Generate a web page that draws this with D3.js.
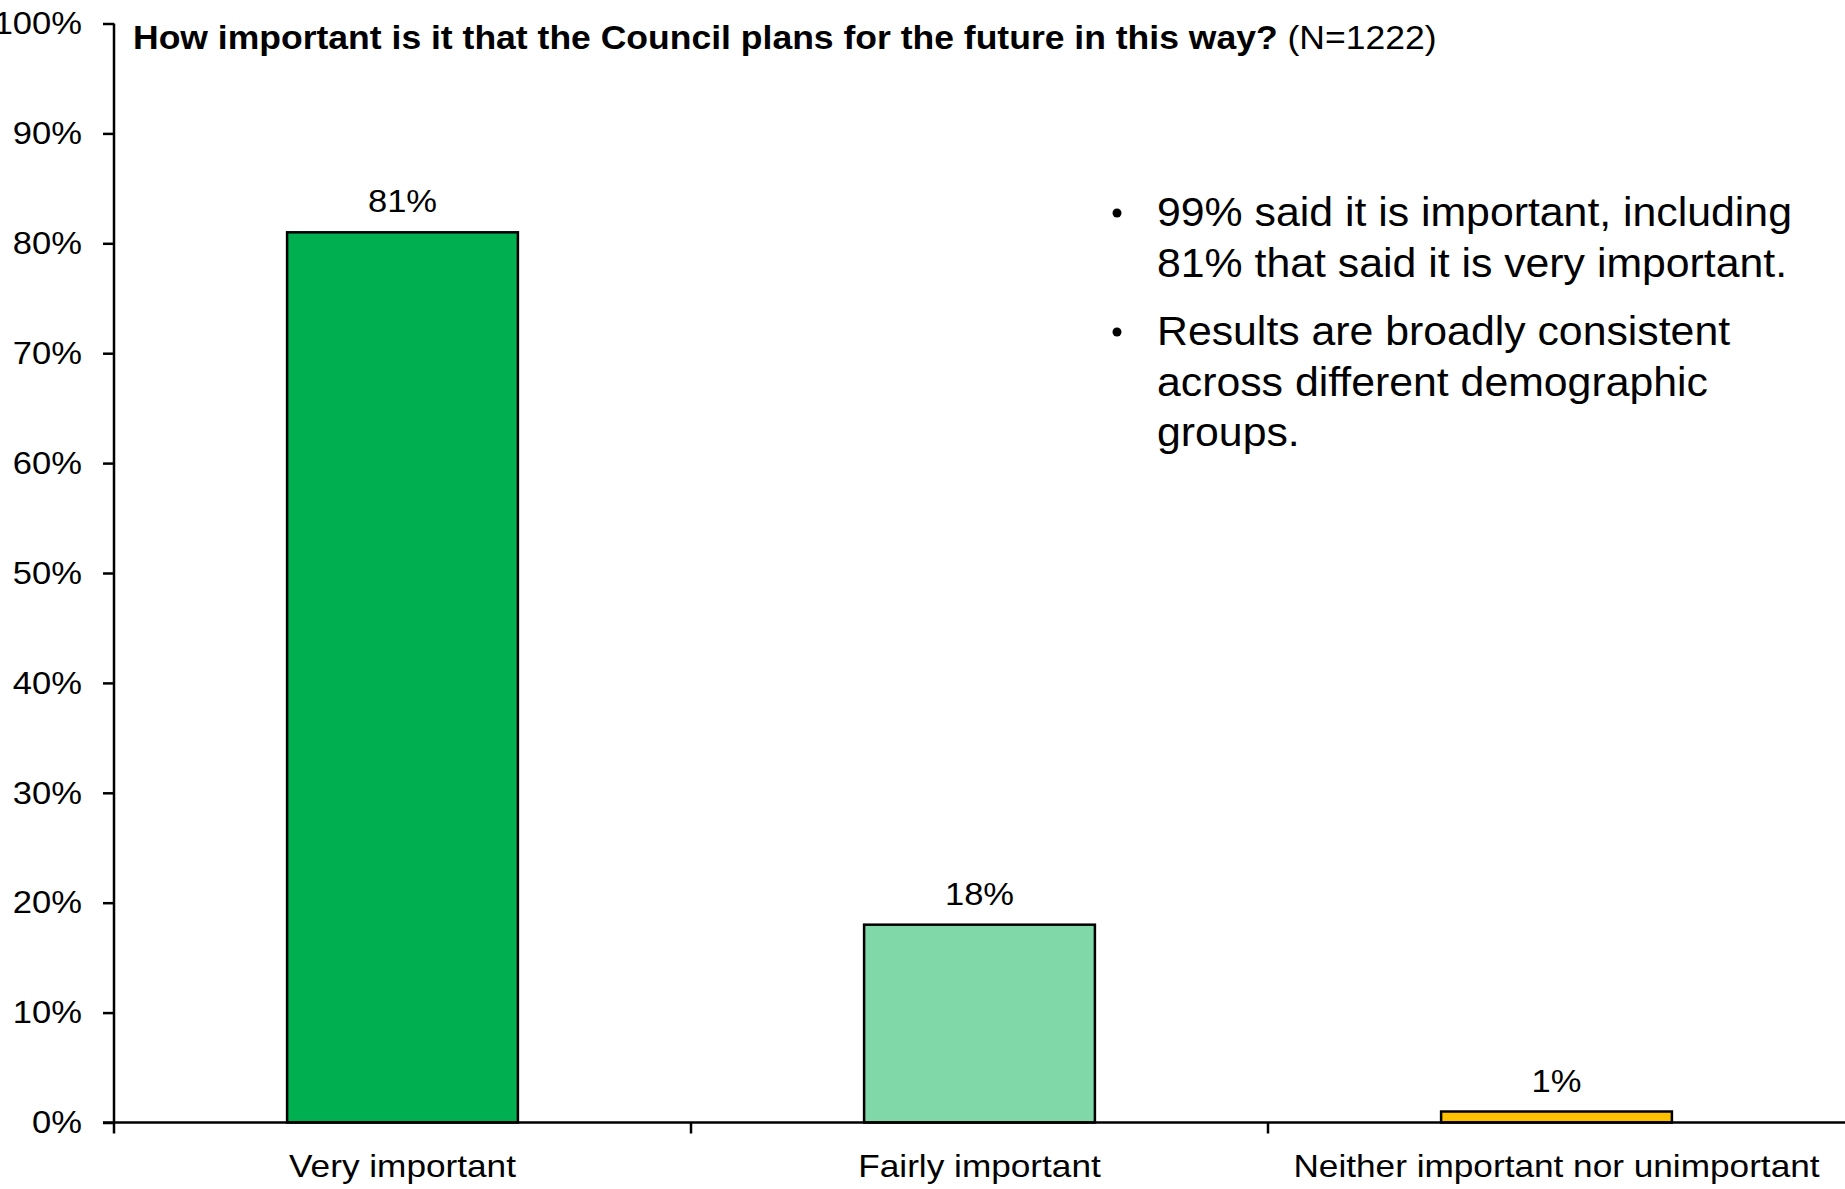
<!DOCTYPE html>
<html>
<head>
<meta charset="utf-8">
<script src="https://cdn.jsdelivr.net/npm/d3@7"></script>
<style>
  html, body { margin: 0; padding: 0; background: #fff; }
  svg { display: block; font-family: "Liberation Sans", Arial, sans-serif; }
</style>
</head>
<body>
<svg id="chart" width="1845" height="1189"></svg>
<script>
const categories = ["Very important", "Fairly important", "Neither important nor unimportant"];
const values = [0.81, 0.18, 0.01];
const valueLabels = ["81%", "18%", "1%"];
const colors = ["#00B050", "#80D8A8", "#FFC000"];
const yTicks = [0, 0.1, 0.2, 0.3, 0.4, 0.5, 0.6, 0.7, 0.8, 0.9, 1.0];
const titleBold = "How important is it that the Council plans for the future in this way?";
const titleNormal = " (N=1222)";
const bullets = [
  ["99% said it is important, including", "81% that said it is very important."],
  ["Results are broadly consistent", "across different demographic", "groups."]
];

const svg = d3.select("#chart");
const W = 1845, H = 1189;
const x0 = 114, x1 = 1845, yBottom = 1122.5, yTop = 23.5;

const x = d3.scaleBand().domain(categories).range([x0, x1]).paddingInner(0.6).paddingOuter(0.3);
const y = d3.scaleLinear().domain([0, 1]).range([yBottom, yTop]);

// Y axis
const yAxis = d3.axisLeft(y).tickValues(yTicks).tickFormat(d3.format(".0%")).tickSize(11).tickPadding(21);
const gy = svg.append("g").attr("transform", `translate(${x0},0)`).call(yAxis);
gy.select(".domain").attr("d", `M0,${yTop}V${yBottom}`).attr("stroke", "#000").attr("stroke-width", 2.5);
gy.selectAll(".tick line").attr("stroke", "#000").attr("stroke-width", 2.5);
gy.selectAll(".tick text").attr("font-size", 32).attr("fill", "#000")
  .attr("font-family", "'Liberation Sans', Arial, sans-serif")
  .attr("transform", "scale(1.08,1)")
  .attr("x", -32 / 1.08);

// Bars
svg.append("g").selectAll("rect").data(categories).join("rect")
  .attr("x", d => x(d))
  .attr("y", (d, i) => y(values[i]))
  .attr("width", x.bandwidth())
  .attr("height", (d, i) => y(0) - y(values[i]))
  .attr("fill", (d, i) => colors[i])
  .attr("stroke", "#000")
  .attr("stroke-width", 2.5);

// X axis
const gx = svg.append("g").attr("transform", `translate(0,${yBottom})`);
gx.append("line").attr("x1", x0 - 11).attr("x2", x1).attr("y1", 0).attr("y2", 0)
  .attr("stroke", "#000").attr("stroke-width", 2.5);
const boundaries = categories.map(c => x(c) - x.step() * x.paddingOuter());
gx.selectAll("line.tk").data(boundaries).join("line").attr("class", "tk")
  .attr("x1", d => d).attr("x2", d => d).attr("y1", 0).attr("y2", 11)
  .attr("stroke", "#000").attr("stroke-width", 2.5);
gx.selectAll("text").data(categories).join("text")
  .attr("transform", d => `translate(${x(d) + x.bandwidth() / 2},54) scale(1.1,1)`)
  .attr("text-anchor", "middle")
  .attr("font-size", 32)
  .attr("fill", "#000")
  .text(d => d);

// Value labels
svg.append("g").selectAll("text").data(categories).join("text")
  .attr("transform", (d, i) => `translate(${x(d) + x.bandwidth() / 2},${y(values[i]) - 20}) scale(1.08,1)`)
  .attr("text-anchor", "middle")
  .attr("font-size", 32)
  .attr("fill", "#000")
  .text((d, i) => valueLabels[i]);

// Title
const title = svg.append("text").attr("transform", "translate(133,49) scale(1.045,1)").attr("font-size", 34).attr("fill", "#000");
title.append("tspan").attr("font-weight", "bold").text(titleBold);
title.append("tspan").text(titleNormal);

// Bullets
const lineH = 50.5;
const starts = [226, 345];
bullets.forEach((lines, bi) => {
  svg.append("circle").attr("cx", 1117).attr("cy", starts[bi] - 13).attr("r", 4.5).attr("fill", "#000");
  lines.forEach((ln, li) => {
    svg.append("text")
      .attr("transform", `translate(1157,${starts[bi] + li * lineH}) scale(1.07,1)`)
      .attr("font-size", 40)
      .attr("fill", "#000")
      .text(ln);
  });
});
</script>
</body>
</html>
